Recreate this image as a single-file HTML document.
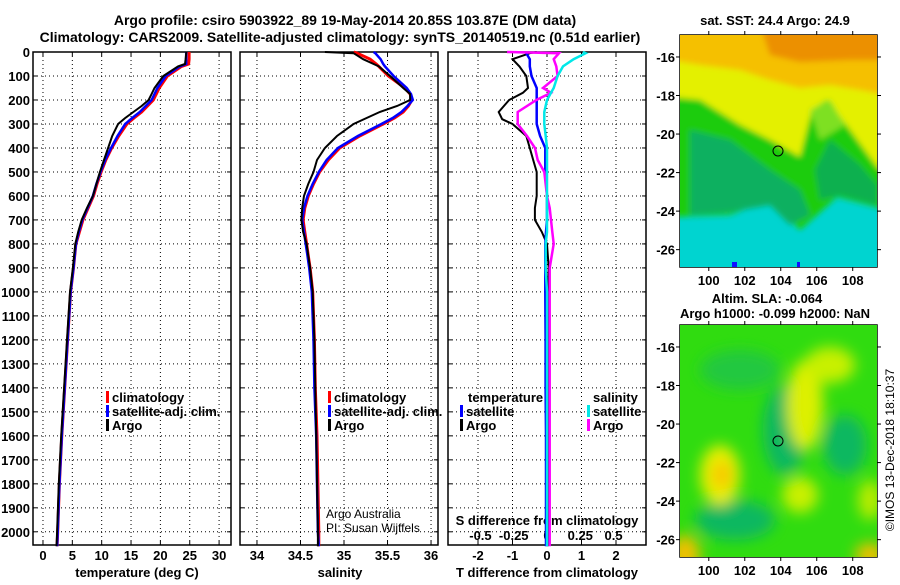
<!DOCTYPE html>
<html><head><meta charset="utf-8">
<style>
body{margin:0;background:#fff;width:900px;height:580px;overflow:hidden;font-family:"Liberation Sans",sans-serif;}
svg text{font-family:"Liberation Sans",sans-serif;font-weight:bold;font-size:13px;fill:#000;}
</style></head><body>
<svg id="c" width="900" height="580" xmlns="http://www.w3.org/2000/svg">
<defs>
<filter id="blur1" x="-20%" y="-20%" width="140%" height="140%"><feGaussianBlur stdDeviation="3"/></filter>
<filter id="blur2" x="-30%" y="-30%" width="160%" height="160%"><feGaussianBlur stdDeviation="7"/></filter>
<clipPath id="m1c"><rect x="680" y="35" width="197" height="232"/></clipPath>
<clipPath id="m2c"><rect x="680" y="325" width="197" height="232"/></clipPath>
</defs>
<text x="345" y="25" text-anchor="middle" style="font-size:14px">Argo profile: csiro 5903922_89 19-May-2014 20.85S 103.87E (DM data)</text>
<text x="340" y="42" text-anchor="middle" style="font-size:14px">Climatology: CARS2009. Satellite-adjusted climatology: synTS_20140519.nc (0.51d earlier)</text>
<g id="plots"></g>
<g clip-path="url(#m1c)">
<rect x="680" y="35" width="197" height="232" fill="#00d4d0"/>
<g filter="url(#blur1)">
<polygon points="670,25 887,25 887,175 877,167 850,130 827,100 812,110 800,157 770,140 740,125 700,100 670,97" fill="#e4f000"/>
<polygon points="670,25 887,25 887,95 860,90 830,85 800,88 770,80 740,70 700,65 670,60" fill="#f5c000"/>
<polygon points="760,25 887,25 887,60 850,60 800,62 770,55" fill="#ec9000"/>
<polygon points="670,97 700,100 740,125 770,140 800,157 812,110 827,100 850,130 877,167 887,175 887,210 837,197 800,230 770,200 730,215 670,217" fill="#1ccc10"/>
<polygon points="690,130 730,140 770,170 800,190 810,215 790,225 770,205 730,212 690,215" fill="#10b060"/>
<polygon points="830,140 860,165 877,185 877,205 840,195 820,200 815,170" fill="#10b050"/>
<polygon points="810,110 830,100 845,125 820,140" fill="#7ee020"/>
</g>
<rect x="732" y="262" width="5" height="5" fill="#1010ff"/>
<rect x="797" y="262" width="3" height="5" fill="#1010ff"/>
<circle cx="778" cy="151" r="5" fill="none" stroke="#000" stroke-width="1"/>
</g>
<g clip-path="url(#m2c)">
<rect x="680" y="325" width="197" height="232" fill="#30dc10"/>
<g filter="url(#blur2)">
<ellipse cx="785" cy="430" rx="22" ry="45" fill="#10b860"/>
<ellipse cx="740" cy="370" rx="40" ry="20" fill="#20c840"/>
<ellipse cx="845" cy="445" rx="22" ry="30" fill="#10b860"/>
<ellipse cx="735" cy="520" rx="40" ry="20" fill="#10b860"/>
<ellipse cx="720" cy="475" rx="20" ry="30" fill="#e8f000"/>
<ellipse cx="722" cy="475" rx="10" ry="14" fill="#f8c800"/>
<ellipse cx="805" cy="405" rx="18" ry="45" fill="#ddf000"/>
<ellipse cx="830" cy="365" rx="25" ry="18" fill="#c8f000"/>
<ellipse cx="800" cy="495" rx="18" ry="18" fill="#c8f000"/>
<ellipse cx="685" cy="555" rx="15" ry="20" fill="#f0c000"/>
<ellipse cx="870" cy="555" rx="15" ry="12" fill="#f0c000"/>
<ellipse cx="870" cy="500" rx="12" ry="20" fill="#b8ec00"/>
</g>
<circle cx="778" cy="441" r="5" fill="none" stroke="#000" stroke-width="1"/>
</g>
<text x="775" y="25" text-anchor="middle">sat. SST: 24.4 Argo: 24.9</text>
<text x="767" y="303" text-anchor="middle">Altim. SLA: -0.064</text>
<text x="775" y="318" text-anchor="middle">Argo h1000: -0.099 h2000: NaN</text>
<text transform="translate(894,450) rotate(-90)" text-anchor="middle" style="font-weight:normal;font-size:12px">©IMOS 13-Dec-2018 18:10:37</text>
</svg>
<script>
// ---- data ----
const depths = [0,5,30,50,60,100,150,175,200,225,250,275,300,350,400,450,500,550,600,650,700,750,800,850,900,1000,1200,1400,1600,1800,2000,2060];
const tempArgo = [24.4,24.4,24.3,24.2,23.0,20.5,19.0,18.5,18.0,16.8,15.4,14.0,12.8,11.8,11.1,10.4,9.7,9.1,8.5,7.5,6.6,6.0,5.5,5.3,5.1,4.6,4.1,3.6,3.1,2.7,2.4,2.3];
const tempClim = [24.9,24.9,24.9,24.8,23.6,21.2,19.8,19.3,18.8,17.8,16.8,15.5,14.3,12.9,11.7,10.7,9.9,9.2,8.6,7.7,6.8,6.2,5.6,5.4,5.2,4.7,4.2,3.7,3.2,2.8,2.5,2.4];
const tempSat = [24.4,24.4,24.4,24.4,23.3,20.9,19.5,19.0,18.5,17.5,16.5,15.2,14.0,12.7,11.6,10.6,9.8,9.1,8.5,7.6,6.7,6.1,5.6,5.4,5.2,4.7,4.2,3.7,3.2,2.8,2.5,2.4];
const salArgo = [34.78,35.11,35.22,35.34,35.4,35.53,35.68,35.76,35.76,35.61,35.41,35.26,35.11,34.92,34.78,34.69,34.65,34.59,34.54,34.52,34.51,34.53,34.57,34.59,34.61,34.64,34.66,34.67,34.68,34.69,34.70,34.70];
const salClim = [35.11,35.15,35.3,35.37,35.4,35.51,35.70,35.76,35.78,35.74,35.68,35.58,35.45,35.18,34.95,34.82,34.72,34.65,34.59,34.55,34.53,34.55,34.57,34.59,34.61,34.64,34.66,34.67,34.69,34.70,34.71,34.71];
const salSat = [35.34,35.36,35.42,35.45,35.47,35.57,35.72,35.77,35.79,35.73,35.66,35.56,35.43,35.16,34.93,34.80,34.71,34.64,34.58,34.54,34.52,34.54,34.56,34.58,34.60,34.63,34.65,34.66,34.68,34.69,34.70,34.71];
const diffDepths = [0,5,30,60,100,150,170,200,250,280,300,350,400,450,500,600,650,700,750,800,900,1000,1200,1400,1600,1800,2000,2060];
const tDiffArgo = [-0.3,-0.5,-1.0,-0.8,-0.6,-0.55,-0.7,-1.1,-1.4,-1.3,-1.0,-0.6,-0.5,-0.4,-0.3,-0.3,-0.35,-0.35,-0.15,0.0,0.05,0.03,0.03,0.02,0.02,0.02,0.02,0.02];
const tDiffSat = [-0.6,-0.6,-0.5,-0.5,-0.45,-0.3,-0.3,-0.3,-0.3,-0.3,-0.3,-0.2,-0.05,-0.05,-0.05,0.0,0.0,0.0,-0.03,-0.05,-0.05,-0.05,-0.04,-0.04,-0.03,-0.03,-0.03,-0.03];
const sDiffArgo = [-0.3,0.09,0.05,0.07,0.08,-0.03,0.03,-0.08,-0.22,-0.22,-0.22,-0.15,-0.09,-0.07,-0.02,0.0,0.02,0.03,0.04,0.05,0.02,0.02,0.02,0.02,0.02,0.02,0.02,0.02];
const sDiffSat = [0.27,0.29,0.2,0.12,0.08,0.05,0.03,0.0,-0.02,-0.02,-0.02,-0.01,0.0,0.0,0.0,0.0,0.0,0.0,0.0,-0.01,-0.01,0.0,0.0,0.0,0.0,0.0,0.0,0.0];
const depthTicks = [0,100,200,300,400,500,600,700,800,900,1000,1100,1200,1300,1400,1500,1600,1700,1800,1900,2000];
const tempTicks = [0,5,10,15,20,25,30];
const salTicks = [34,34.5,35,35.5,36];
const tdTicks = [-2,-1,0,1,2];
const sdTicks = [-0.5,-0.25,0,0.25,0.5];
const sdTickLabels = ['-0.5','-0.25','0','0.25','0.5'];
const mapLonTicks = [100,102,104,106,108];
const mapLatTicks = [-16,-18,-20,-22,-24,-26];

// ---- layout ----
const NS='http://www.w3.org/2000/svg';
const g=document.getElementById('plots');
const yTop=52,yBot=545;
const yD=d=>yTop+(d/2055)*(yBot-yTop);
function mk(t,a,p){const e=document.createElementNS(NS,t);for(const k in a)e.setAttribute(k,a[k]);(p||g).appendChild(e);return e;}
function txt(x,y,s,anchor,extra){const e=mk('text',{x:x,y:y,'text-anchor':anchor||'middle'});e.textContent=s;if(extra)e.setAttribute('style',extra);return e;}
const panels=[
 {x0:33,x1:231,min:-1.7,max:32.03},
 {x0:240,x1:438,min:33.805,max:36.08},
 {x0:448,x1:646,min:-2.87,max:2.87}
];
function sx(p,v){return p.x0+(v-p.min)/(p.max-p.min)*(p.x1-p.x0);}
function frame(p,ticks,name){
 const fr=mk('g',{});
 
 
 depthTicks.forEach(d=>{mk('line',{x1:p.x0,x2:p.x1,y1:yD(d),y2:yD(d),stroke:'#000','stroke-width':1,'stroke-dasharray':'1,3'},fr);
  mk('line',{x1:p.x0,x2:p.x0+4,y1:yD(d),y2:yD(d),stroke:'#000'},fr);mk('line',{x1:p.x1-4,x2:p.x1,y1:yD(d),y2:yD(d),stroke:'#000'},fr);});
 ticks.forEach(v=>{const x=sx(p,v);mk('line',{x1:x,x2:x,y1:yTop,y2:yBot,stroke:'#000','stroke-dasharray':'1,3'},fr);
  mk('line',{x1:x,x2:x,y1:yBot-4,y2:yBot,stroke:'#000'},fr);mk('line',{x1:x,x2:x,y1:yTop,y2:yTop+4,stroke:'#000'},fr);});
 mk('rect',{x:p.x0,y:yTop,width:p.x1-p.x0,height:yBot-yTop,fill:'none',stroke:'#000','stroke-width':1.5},fr);
}
function series(p,xs,ds,color,w,name){
 const pts=xs.map((v,i)=>sx(p,v).toFixed(1)+','+yD(ds[i]).toFixed(1)).join(' ');
 const e=mk('polyline',{points:pts,fill:'none',stroke:color,'stroke-width':w});
 
 
}
frame(panels[0],tempTicks,'temperature-panel');
frame(panels[1],salTicks,'salinity-panel');
frame(panels[2],tdTicks,'difference-panel');
depthTicks.forEach(d=>{const e=txt(30,yD(d)+5,String(d),'end');});
tempTicks.forEach(v=>{const e=txt(sx(panels[0],v),560,String(v));});
salTicks.forEach(v=>{const e=txt(sx(panels[1],v),560,String(v));});
tdTicks.forEach(v=>{const e=txt(sx(panels[2],v),560,String(v));});
const sp={x0:448,x1:646,min:-0.744,max:0.744};
sdTicks.forEach((v,i)=>{const e=txt(sx(sp,v),540,sdTickLabels[i]);});
let tt;
tt=txt(137,577,'temperature (deg C)');
tt=txt(340,577,'salinity');
tt=txt(547,577,'T difference from climatology');
tt=txt(547,525,'S difference from climatology');

series(panels[0],tempClim,depths,'#ff0000',3,'temp-climatology-line');
series(panels[0],tempSat,depths,'#0000ff',2.5,'temp-satellite-line');
series(panels[0],tempArgo,depths,'#000',2,'temp-argo-line');
series(panels[1],salClim,depths,'#ff0000',3,'sal-climatology-line');
series(panels[1],salSat,depths,'#0000ff',2.5,'sal-satellite-line');
series(panels[1],salArgo,depths,'#000',2,'sal-argo-line');
series(panels[2],tDiffArgo,diffDepths,'#000',2,'tdiff-argo-line');
series(panels[2],tDiffSat,diffDepths,'#0000ff',2.5,'tdiff-satellite-line');
series(sp,sDiffArgo,diffDepths,'#ff00ff',2.5,'sdiff-argo-line');
series(sp,sDiffSat,diffDepths,'#00e8e8',2.5,'sdiff-satellite-line');

function legend(x,y,items,name){
 const lg=mk('g',{});
 
 
 items.forEach((it,i)=>{const yy=y+i*14;
  if(it[1])mk('rect',{x:x,y:yy-11,width:3,height:12,fill:it[1]},lg);
  const e=mk('text',{x:x+(it[1]?6:0),y:yy,'text-anchor':'start'},lg);e.textContent=it[0];});
}
legend(106,402,[['climatology','#ff0000'],['satellite-adj. clim.','#0000ff'],['Argo','#000']],'temp-legend');
legend(328,402,[['climatology','#ff0000'],['satellite-adj. clim.','#0000ff'],['Argo','#000']],'sal-legend');
legend(468,402,[['temperature',null]],'tdiff-legend-title');
legend(460,416,[['satellite','#0000ff'],['Argo','#000']],'tdiff-legend');
legend(593,402,[['salinity',null]],'sdiff-legend-title');
legend(587,416,[['satellite','#00e8e8'],['Argo','#ff00ff']],'sdiff-legend');
tt=txt(326,518,'Argo Australia','start','font-weight:normal;font-size:12px');
tt=txt(326,532,'PI: Susan Wijffels','start','font-weight:normal;font-size:12px');

const maps=[{y0:35,y1:267},{y0:325,y1:557}];
const mlon=v=>680+(v-98.4)/(109.35-98.4)*197;
maps.forEach((m,mi)=>{
 const mlat=v=>m.y0+(-14.86-v)/(26.9-14.86)*(m.y1-m.y0);
 const ax=mk('g',{});
 
 
 mk('rect',{x:680,y:m.y0,width:197,height:m.y1-m.y0,fill:'none',stroke:'#000','stroke-width':1.5},ax);
 mapLonTicks.forEach(v=>{const x=mlon(v);mk('line',{x1:x,x2:x,y1:m.y0-4,y2:m.y0,stroke:'#000'},ax);mk('line',{x1:x,x2:x,y1:m.y1,y2:m.y1+4,stroke:'#000'},ax);
  const e=mk('text',{x:x,y:m.y1+18,'text-anchor':'middle'},ax);e.textContent=String(v);});
 mapLatTicks.forEach(v=>{const y=mlat(v);mk('line',{x1:877,x2:881,y1:y,y2:y,stroke:'#000'},ax);mk('line',{x1:676,x2:680,y1:y,y2:y,stroke:'#000'},ax);
  const e=mk('text',{x:675,y:y+5,'text-anchor':'end'},ax);e.textContent=String(v);});
});
</script>
</body></html>
